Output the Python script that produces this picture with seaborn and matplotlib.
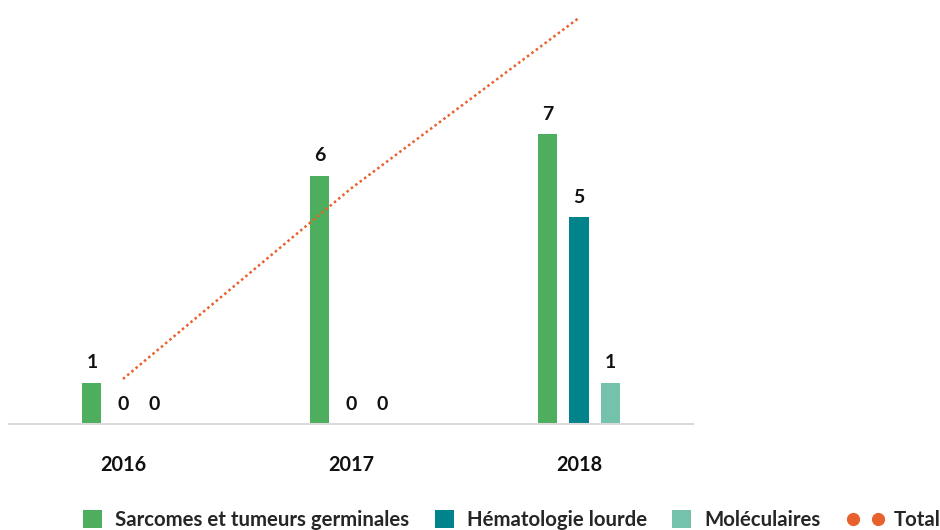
import matplotlib
matplotlib.use("Agg")
import matplotlib.pyplot as plt
from matplotlib.lines import Line2D
from matplotlib.patches import Patch
from matplotlib.legend_handler import HandlerLine2D
import numpy as np
import pandas as pd
import seaborn as sns

# Data
years = ["2016", "2017", "2018"]
series = ["Sarcomes et tumeurs germinales", "Hématologie lourde", "Moléculaires"]
sarcomes = [1, 6, 7]
hematologie = [0, 0, 5]
moleculaires = [0, 0, 1]
total = [1, 6, 13]

bar_colors = ["#4DAF5E", "#00838A", "#74C2AC"]
total_color = "#E8602C"

df = pd.DataFrame({
    "Année": years * 3,
    "Série": np.repeat(series, len(years)),
    "Valeur": sarcomes + hematologie + moleculaires,
})

sns.set_theme(style="white")
plt.rcParams["font.family"] = ["Lato", "DejaVu Sans"]

fig = plt.figure(figsize=(9.4, 5.3), dpi=100)
ax = fig.add_axes([9 / 940, 106 / 530, 684 / 940, 414 / 530])

sns.barplot(data=df, x="Année", y="Valeur", hue="Série", palette=bar_colors,
            width=0.408, gap=0.387, saturation=1, linewidth=0,
            legend=False, ax=ax)

for cont in ax.containers:
    ax.bar_label(cont, fmt="{:.0f}", padding=8, fontsize=14,
                 fontweight="bold", color="#111111")

ax.set_xlim(-0.5, 2.5)
ax.set_ylim(0, 10)
ax.set_xlabel("")
ax.set_ylabel("")
ax.set_yticks([])
for side in ("left", "right", "top"):
    ax.spines[side].set_visible(False)
ax.spines["bottom"].set_color("#DADADA")
ax.spines["bottom"].set_linewidth(1.5)
ax.tick_params(axis="x", length=0, pad=22, labelsize=14.3, labelcolor="#111111")
for lbl in ax.get_xticklabels():
    lbl.set_fontweight("bold")

# Total on its own (power-scaled) secondary axis
def _fwd(v):
    v = np.asarray(v, dtype=float)
    return np.sign(v) * np.abs(v) ** 0.6

def _inv(v):
    v = np.asarray(v, dtype=float)
    return np.sign(v) * np.abs(v) ** (1 / 0.6)

ax2 = ax.twinx()
ax2.set_yscale("function", functions=(_fwd, _inv))
sns.lineplot(x=np.arange(len(years)), y=total, ax=ax2, color=total_color,
             linewidth=1.8, linestyle=(0, (1, 1.2)), legend=False)
ax2.set_ylim(0.362, 13.37)
ax2.set_yticks([])
ax2.set_yticks([], minor=True)
ax2.set_ylabel("")
for side in ("left", "right", "top", "bottom"):
    ax2.spines[side].set_visible(False)

# Legend: square swatches for the bars ...
legend_font = {"size": 14.7, "weight": "bold"}
bar_handles = [Patch(facecolor=c, edgecolor="none") for c in bar_colors]
fig.legend(bar_handles, series, loc="center left",
           bbox_to_anchor=(83 / 940, 10 / 530), ncol=3, frameon=False,
           prop=legend_font, handlelength=0.93, handleheight=0.93,
           handletextpad=0.64, columnspacing=1.25,
           borderpad=0, borderaxespad=0)

# ... and two dots for the total
total_handle = Line2D([], [], linestyle="none", marker="o", markersize=9.5,
                      markerfacecolor=total_color, markeredgecolor="none")
fig.legend([total_handle], ["Total"], loc="center left",
           bbox_to_anchor=(847 / 940, 10 / 530), frameon=False,
           prop=legend_font, handlelength=1.8, handletextpad=0.47,
           borderpad=0, borderaxespad=0,
           handler_map={Line2D: HandlerLine2D(numpoints=2)})

fig.savefig("out.png", dpi=100)
